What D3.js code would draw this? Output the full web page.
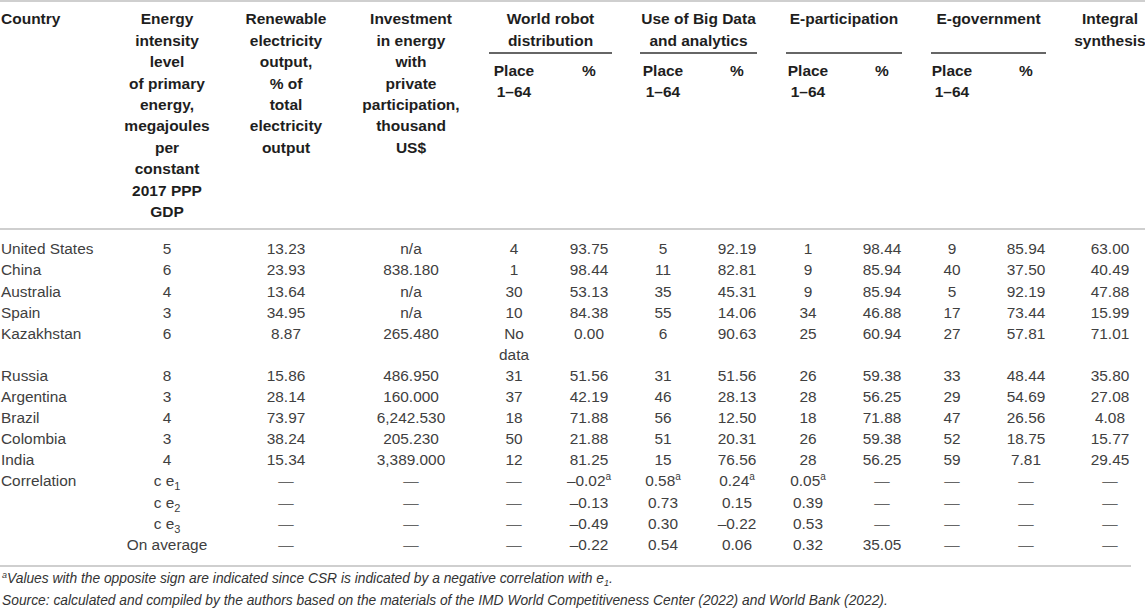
<!DOCTYPE html>
<html lang="en">
<head>
<meta charset="utf-8">
<title>Energy and digital indicators by country</title>
<style>
  body { margin: 0; background: #fff; }
  svg text { font-family: "Liberation Sans", Arial, Helvetica, sans-serif; }
  .head { font-weight: bold; font-size: 15.5px; fill: #1e1e1e; }
  .cell { font-size: 15.4px; fill: #404040; }
  .note { font-size: 13.8px; font-style: italic; fill: #333; }
</style>
</head>
<body>
<script src="https://cdn.jsdelivr.net/npm/d3@7"></script>
<script>
const countries = ["United States", "China", "Australia", "Spain", "Kazakhstan", "Russia", "Argentina", "Brazil", "Colombia", "India"];
const energyIntensity = [5, 6, 4, 3, 6, 8, 3, 4, 3, 4];
const renewableShare = [13.23, 23.93, 13.64, 34.95, 8.87, 15.86, 28.14, 73.97, 38.24, 15.34];
const privateInvestment = [null, 838.18, null, null, 265.48, 486.95, 160.0, 6242.53, 205.23, 3389.0];
const robotPlace = [4, 1, 30, 10, null, 31, 37, 18, 50, 12];
const robotPct = [93.75, 98.44, 53.13, 84.38, 0.00, 51.56, 42.19, 71.88, 21.88, 81.25];
const bigDataPlace = [5, 11, 35, 55, 6, 31, 46, 56, 51, 15];
const bigDataPct = [92.19, 82.81, 45.31, 14.06, 90.63, 51.56, 28.13, 12.50, 20.31, 76.56];
const ePartPlace = [1, 9, 9, 34, 25, 26, 28, 18, 26, 28];
const ePartPct = [98.44, 85.94, 85.94, 46.88, 60.94, 59.38, 56.25, 71.88, 59.38, 56.25];
const eGovPlace = [9, 40, 5, 17, 27, 33, 29, 47, 52, 59];
const eGovPct = [85.94, 37.50, 92.19, 73.44, 57.81, 48.44, 54.69, 26.56, 18.75, 7.81];
const integral = [63.00, 40.49, 47.88, 15.99, 71.01, 35.80, 27.08, 4.08, 15.77, 29.45];

// correlation block: c e1, c e2, c e3, on average
const corrLabels = ["1", "2", "3", null];
const corrRobotPct = [-0.02, -0.13, -0.49, -0.22];
const corrBigDataPlace = [0.58, 0.73, 0.30, 0.54];
const corrBigDataPct = [0.24, 0.15, -0.22, 0.06];
const corrEPartPlace = [0.05, 0.39, 0.53, 0.32];
const corrEPartPct = [null, null, null, 35.05];
const corrFlagged = [true, false, false, false];

// header text
const energyHead = ["Energy", "intensity", "level", "of primary", "energy,", "megajoules", "per", "constant", "2017 PPP", "GDP"];
const renewHead = ["Renewable", "electricity", "output,", "% of", "total", "electricity", "output"];
const investHead = ["Investment", "in energy", "with", "private", "participation,", "thousand", "US$"];
const groups = [
  {name: ["World robot", "distribution"], place: "rPlace", pct: "rPct"},
  {name: ["Use of Big Data", "and analytics"], place: "bPlace", pct: "bPct"},
  {name: ["E-participation"], place: "pPlace", pct: "pPct"},
  {name: ["E-government"], place: "gPlace", pct: "gPct"}
];
const integralHead = ["Integral", "synthesis"];

const width = 1145, height = 608;

// column layout
const cols = ["energy", "renew", "invest", "rPlace", "rPct", "bPlace", "bPct", "pPlace", "pPct", "gPlace", "gPct", "integral"];
const x = d3.scaleOrdinal(cols, [167, 286, 411, 514, 589, 663, 737, 808, 882, 952, 1026, 1110]);
const groupSpan = [[489, 612], [640, 757], [786, 902], [931, 1046]];
const headY = d3.scaleLinear().domain([0, 9]).range([19, 211.6]);
const rowY = d3.scaleLinear().domain([0, 14]).range([249, 544.4]);

const loc = d3.formatLocale({decimal: ".", thousands: ",", grouping: [3], currency: ["$", ""], minus: "\u2013"});
const f2 = loc.format(".2f");
const f3 = loc.format(",.3f");

const svg = d3.select("body").append("svg")
    .attr("width", width)
    .attr("height", height);

// rules
const rules = [{y: 1, x2: width}, {y: 229, x2: width}, {y: 566, x2: 1131}];
svg.append("g").selectAll("line")
  .data(rules)
  .join("line")
    .attr("x1", 0).attr("x2", d => d.x2)
    .attr("y1", d => d.y).attr("y2", d => d.y)
    .attr("stroke", "#cfcfcf").attr("stroke-width", 2);

// header
const head = svg.append("g").attr("class", "head");
function headLines(lines, cx, anchor) {
  head.append("g").selectAll("text")
    .data(lines)
    .join("text")
      .attr("x", cx)
      .attr("y", (d, i) => headY(i))
      .attr("dy", "0.35em")
      .attr("text-anchor", anchor || "middle")
      .text(d => d);
}
headLines(["Country"], 1, "start");
headLines(energyHead, x("energy"));
headLines(renewHead, x("renew"));
headLines(investHead, x("invest"));
groups.forEach((g, i) => {
  const [a, b] = groupSpan[i];
  headLines(g.name, (a + b) / 2);
  head.append("line")
    .attr("x1", a).attr("x2", b).attr("y1", 53).attr("y2", 53)
    .attr("stroke", "#333").attr("stroke-width", 1.4);
  head.append("text").attr("x", x(g.place)).attr("y", 71).attr("dy", "0.35em")
    .attr("text-anchor", "middle").text("Place");
  head.append("text").attr("x", x(g.place)).attr("y", 92).attr("dy", "0.35em")
    .attr("text-anchor", "middle").text("1\u201364");
  head.append("text").attr("x", x(g.pct)).attr("y", 71).attr("dy", "0.35em")
    .attr("text-anchor", "middle").text("%");
});
headLines(integralHead, x("integral"));

// body cells
const slots = [0, 1, 2, 3, 4, 6, 7, 8, 9, 10];
const cells = [];
countries.forEach((c, i) => {
  const s = slots[i];
  cells.push({col: "energy", slot: s, text: String(energyIntensity[i])});
  cells.push({col: "renew", slot: s, text: f2(renewableShare[i])});
  cells.push({col: "invest", slot: s, text: privateInvestment[i] == null ? "n/a" : f3(privateInvestment[i])});
  if (robotPlace[i] == null) {
    cells.push({col: "rPlace", slot: s, text: "No"});
    cells.push({col: "rPlace", slot: s + 1, text: "data"});
  } else {
    cells.push({col: "rPlace", slot: s, text: String(robotPlace[i])});
  }
  cells.push({col: "rPct", slot: s, text: f2(robotPct[i])});
  cells.push({col: "bPlace", slot: s, text: String(bigDataPlace[i])});
  cells.push({col: "bPct", slot: s, text: f2(bigDataPct[i])});
  cells.push({col: "pPlace", slot: s, text: String(ePartPlace[i])});
  cells.push({col: "pPct", slot: s, text: f2(ePartPct[i])});
  cells.push({col: "gPlace", slot: s, text: String(eGovPlace[i])});
  cells.push({col: "gPct", slot: s, text: f2(eGovPct[i])});
  cells.push({col: "integral", slot: s, text: f2(integral[i])});
});

const dash = "\u2014";
corrLabels.forEach((lab, j) => {
  const s = 11 + j;
  const byCol = {
    rPct: corrRobotPct[j], bPlace: corrBigDataPlace[j],
    bPct: corrBigDataPct[j], pPlace: corrEPartPlace[j], pPct: corrEPartPct[j]
  };
  cols.slice(1).forEach(c => {
    const v = byCol[c];
    if (v == null) cells.push({col: c, slot: s, text: dash});
    else cells.push({col: c, slot: s, text: f2(v), sup: corrFlagged[j] && c !== "pPct" ? "a" : null});
  });
});

const body = svg.append("g").attr("class", "cell");

body.selectAll("text.country")
  .data(countries)
  .join("text")
    .attr("class", "country")
    .attr("x", 1)
    .attr("y", (d, i) => rowY(slots[i]))
    .attr("dy", "0.35em")
    .text(d => d);

body.append("text")
    .attr("x", 1).attr("y", rowY(11)).attr("dy", "0.35em")
    .text("Correlation");

const corrText = body.selectAll("text.corr")
  .data(corrLabels)
  .join("text")
    .attr("class", "corr")
    .attr("x", x("energy"))
    .attr("y", (d, j) => rowY(11 + j))
    .attr("dy", "0.35em")
    .attr("text-anchor", "middle");
corrText.filter(d => d == null).text("On average");
corrText.filter(d => d != null).each(function(d) {
  const t = d3.select(this);
  t.append("tspan").text("c e");
  t.append("tspan").attr("dy", 4).attr("font-size", 11).text(d);
});

const cellText = body.selectAll("text.val")
  .data(cells)
  .join("text")
    .attr("class", "val")
    .attr("x", d => x(d.col))
    .attr("y", d => rowY(d.slot))
    .attr("dy", "0.35em")
    .attr("text-anchor", "middle")
    .attr("fill", d => d.text === dash ? "#666" : null);
cellText.append("tspan").text(d => d.text);
cellText.filter(d => d.sup).append("tspan")
    .attr("dy", -6).attr("font-size", 10).text(d => d.sup);

// notes
const notes = svg.append("g").attr("class", "note");
const n1 = notes.append("text").attr("x", 2).attr("y", 583).attr("dy", "0.35em");
n1.append("tspan").attr("dy", -5).attr("font-size", 9).text("a");
n1.append("tspan").attr("dy", 5).text("Values with the opposite sign are indicated since CSR is indicated by a negative correlation with e");
n1.append("tspan").attr("dy", 3).attr("font-size", 9).text("1");
n1.append("tspan").attr("dy", -3).text(".");
notes.append("text").attr("x", 2).attr("y", 600).attr("dy", "0.35em")
    .text("Source: calculated and compiled by the authors based on the materials of the IMD World Competitiveness Center (2022) and World Bank (2022).");
</script>
</body>
</html>
